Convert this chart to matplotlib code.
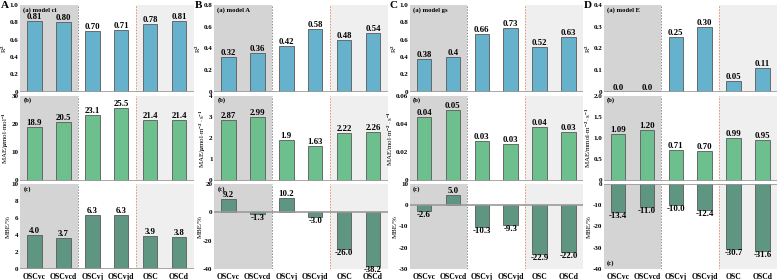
import numpy as np
import matplotlib
matplotlib.use('Agg')
import matplotlib.pyplot as plt

plt.rcParams['font.family'] = ['Liberation Serif', 'DejaVu Serif']
plt.rcParams['font.weight'] = 'bold'
plt.rcParams['mathtext.fontset'] = 'custom'
plt.rcParams['mathtext.rm'] = 'Liberation Serif:bold'
plt.rcParams['mathtext.it'] = 'Liberation Serif:italic:bold'
plt.rcParams['mathtext.bf'] = 'Liberation Serif:bold'

methods = ['OSCvc', 'OSCvcd', 'OSCvj', 'OSCvjd', 'OSC', 'OSCd']
letters = ['A', 'B', 'C', 'D']
models = ['ci', 'A', 'gs', 'E']

# panel A: model ci
r2_A = [0.81, 0.80, 0.70, 0.71, 0.78, 0.81]
mae_A = [18.9, 20.5, 23.1, 25.5, 21.4, 21.4]
mbe_A = [4.0, 3.7, 6.3, 6.3, 3.9, 3.8]
# panel B: model A
r2_B = [0.32, 0.36, 0.42, 0.58, 0.48, 0.54]
mae_B = [2.87, 2.99, 1.9, 1.63, 2.22, 2.26]
mbe_B = [9.2, -1.3, 10.2, -3.0, -26.0, -38.2]
# panel C: model gs
r2_C = [0.38, 0.40, 0.66, 0.73, 0.52, 0.63]
mae_C = [0.045, 0.050, 0.028, 0.026, 0.038, 0.034]
mbe_C = [-2.6, 5.0, -10.3, -9.3, -22.9, -22.0]
# panel D: model E
r2_D = [0.0, 0.0, 0.25, 0.30, 0.05, 0.11]
mae_D = [1.09, 1.20, 0.71, 0.70, 0.99, 0.95]
mbe_D = [-13.4, -11.0, -10.0, -12.4, -30.7, -31.6]

# printed value labels
r2_A_txt = ['0.81', '0.80', '0.70', '0.71', '0.78', '0.81']
r2_B_txt = ['0.32', '0.36', '0.42', '0.58', '0.48', '0.54']
r2_C_txt = ['0.38', '0.4', '0.66', '0.73', '0.52', '0.63']
r2_D_txt = ['0.0', '0.0', '0.25', '0.30', '0.05', '0.11']
mae_A_txt = ['18.9', '20.5', '23.1', '25.5', '21.4', '21.4']
mae_B_txt = ['2.87', '2.99', '1.9', '1.63', '2.22', '2.26']
mae_C_txt = ['0.04', '0.05', '0.03', '0.03', '0.04', '0.03']
mae_D_txt = ['1.09', '1.20', '0.71', '0.70', '0.99', '0.95']

mae_units = [r'MAE/$\mu$mol$\cdot$mol$^{-1}$',
             r'MAE/$\mu$mol$\cdot$m$^{-2}\cdot$s$^{-1}$',
             r'MAE/mol$\cdot$m$^{-2}\cdot$s$^{-1}$',
             r'MAE/mmol$\cdot$m$^{-2}\cdot$s$^{-1}$']

r2_lim = [(0, 1.0), (0, 0.8), (0, 1.0), (0, 0.4)]
r2_step = [0.2, 0.2, 0.2, 0.1]
mae_lim = [(0, 30), (0, 4), (0, 0.06), (0, 2.0)]
mae_step = [10, 1, 0.02, 0.5]
mbe_lim = [(0, 10), (-40, 20), (-30, 10), (-40, 0)]
mbe_step = [2, 20, 10, 10]

c_r2 = '#66b2cc'
c_mae = '#6dc08d'
c_mbe = '#5f9682'

W, H = 779, 280
fig = plt.figure(figsize=(W / 100, H / 100), dpi=100)
lefts = [20, 214, 409.5, 603.5]
width = 173.5
rows = [(5, 91.5), (95.5, 180.5), (184, 269)]

x = np.arange(len(methods))


def fmt_tick(v, step):
    if abs(v) < 1e-12:
        return '0'
    if step < 0.1:
        return '%.2f' % v
    if step < 1:
        return '%.1f' % v
    return '%d' % round(v)


def draw(ax, vals, txt, lim, step, color, ylabel, title, bottom=False, title_low=False):
    ax.axvspan(-0.5, 1.5, color='#d4d4d4', lw=0, zorder=0)
    ax.axvspan(3.5, 5.5, color='#efefef', lw=0, zorder=0)
    ax.axvline(1.5, color='#8a8a8a', ls=(0, (1.5, 1.5)), lw=0.7, zorder=1)
    ax.axvline(3.5, color='#e8906a', ls=(0, (1.5, 1.5)), lw=0.7, zorder=1)
    ax.bar(x, vals, width=0.5, color=color, edgecolor='#5a5a5a', lw=0.6, zorder=2)
    ax.axhline(0, color='#9a9a9a', lw=1.2, zorder=3)
    ax.set_xlim(-0.5, 5.5)
    ax.set_ylim(*lim)
    ticks = np.arange(lim[0], lim[1] + step / 2, step)
    ax.set_yticks(ticks)
    ax.set_yticklabels([fmt_tick(t, step) for t in ticks])
    ax.tick_params(length=0, pad=1, labelsize=5)
    ax.set_xticks(x)
    if bottom:
        ax.set_xticklabels(methods, fontsize=5.5)
        ax.tick_params(axis='x', pad=3)
    else:
        ax.set_xticklabels([])
    for s in ax.spines.values():
        s.set_visible(False)
    ax.set_ylabel(ylabel, fontsize=5, labelpad=0.5)
    for i, (v, t) in enumerate(zip(vals, txt)):
        ax.text(i, v, t, ha='center', va='bottom' if v >= 0 else 'top',
                fontsize=6.3, zorder=4)
    if title_low:
        ax.text(0.02, 0.04, title, transform=ax.transAxes, va='bottom', fontsize=4.8)
    else:
        ax.text(0.02, 0.975, title, transform=ax.transAxes, va='top', fontsize=4.8)


r2_all = [r2_A, r2_B, r2_C, r2_D]
mae_all = [mae_A, mae_B, mae_C, mae_D]
mbe_all = [mbe_A, mbe_B, mbe_C, mbe_D]
r2_txt = [r2_A_txt, r2_B_txt, r2_C_txt, r2_D_txt]
mae_txt = [mae_A_txt, mae_B_txt, mae_C_txt, mae_D_txt]

for p in range(4):
    axs = []
    for top, bot in rows:
        axs.append(fig.add_axes([lefts[p] / W, 1 - bot / H, width / W, (bot - top) / H]))
    draw(axs[0], r2_all[p], r2_txt[p], r2_lim[p], r2_step[p], c_r2,
         r'R$^{2}$', '(a) model %s' % models[p])
    draw(axs[1], mae_all[p], mae_txt[p], mae_lim[p], mae_step[p], c_mae,
         mae_units[p], '(b)')
    mbe_txt = ['%.1f' % v for v in mbe_all[p]]
    draw(axs[2], mbe_all[p], mbe_txt, mbe_lim[p], mbe_step[p], c_mbe,
         'MBE/%', '(c)', bottom=True, title_low=(p == 3))
    fig.text((lefts[p] - 19.5) / W, 1 - 1.5 / H, letters[p], fontsize=8,
             ha='left', va='top')

fig.savefig('out.png', dpi=100)
